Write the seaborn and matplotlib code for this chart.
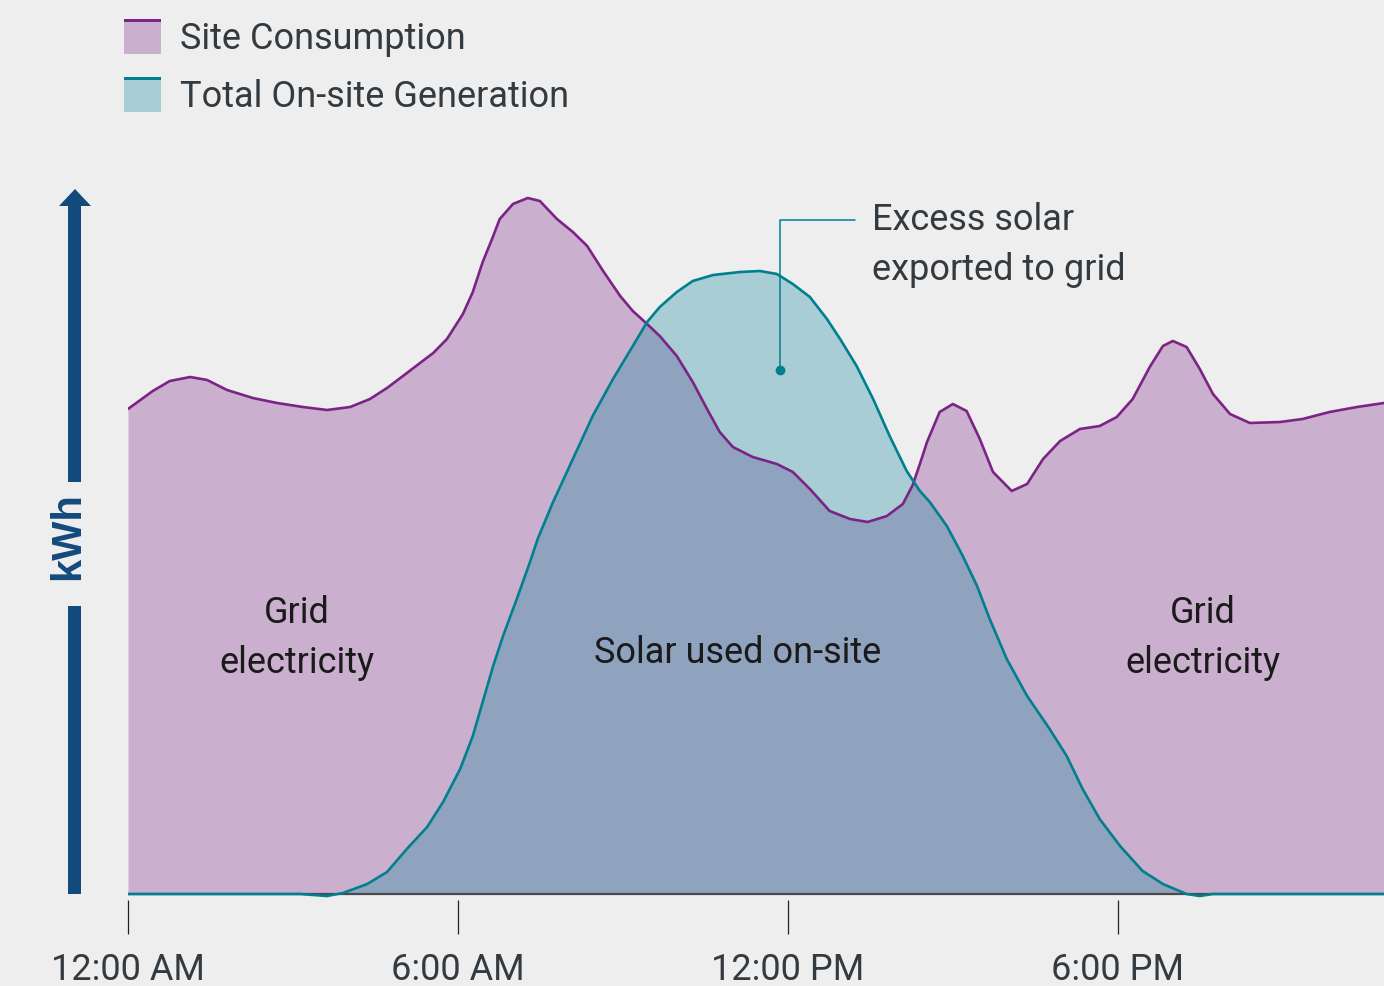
import numpy as np
import pandas as pd
import matplotlib

matplotlib.use("Agg")
import matplotlib.pyplot as plt
import seaborn as sns
from matplotlib import font_manager
from matplotlib.patches import Rectangle, Polygon

sns.set_theme(style="white")
installed = {f.name for f in font_manager.fontManager.ttflist}
if 'Liberation Sans Narrow' in installed:
    FONT, FS = 'Liberation Sans Narrow', 29
else:
    FONT, FS = 'Roboto', 26
plt.rcParams['font.family'] = [FONT, 'DejaVu Sans']

# site consumption: hours after midnight, relative kWh
cons_hours = [0.00, 0.45, 0.76, 1.13, 1.44, 1.80, 2.27, 2.71, 3.18, 3.62, 4.04, 4.40,
              4.71, 5.00, 5.31, 5.55, 5.80, 6.09, 6.27, 6.45, 6.62, 6.76, 7.00, 7.27,
              7.49, 7.80, 8.09, 8.35, 8.64, 8.95, 9.18, 9.40, 9.67, 9.98, 10.27, 10.53,
              10.76, 11.00, 11.36, 11.80, 12.09, 12.40, 12.76, 13.13, 13.45, 13.80, 14.09,
              14.27, 14.40, 14.53, 14.76, 15.00, 15.25, 15.49, 15.73, 16.07, 16.35, 16.64,
              16.95, 17.31, 17.67, 17.98, 18.27, 18.58, 18.82, 19.00, 19.25, 19.49, 19.73,
              20.04, 20.40, 20.95, 21.36, 21.85, 22.35, 22.84]
consumption = [485, 503, 513, 517, 514, 504, 496, 491, 487, 484, 487, 495,
               506, 518, 531, 541, 555, 580, 602, 632, 655, 675, 690, 696,
               693, 675, 662, 648, 623, 598, 583, 572, 558, 538, 512, 485,
               462, 447, 437, 430, 422, 405, 383, 375, 372, 378, 390,
               409, 430, 452, 482, 490, 483, 455, 422, 403, 410, 435,
               453, 465, 468, 477, 495, 527, 548, 553, 547, 525, 500,
               480, 471, 472, 475, 482, 487, 491]

# total on-site generation: hours after midnight, relative kWh
gen_hours = [0.00, 3.13, 3.62, 3.91, 4.35, 4.71, 5.07, 5.44, 5.73, 6.04, 6.27, 6.45,
             6.64, 6.82, 7.07, 7.31, 7.45, 7.73, 8.09, 8.45, 8.82, 9.18, 9.44, 9.67,
             9.98, 10.27, 10.64, 11.13, 11.49, 11.80, 12.09, 12.40, 12.71, 12.95, 13.25,
             13.55, 13.85, 14.16, 14.40, 14.58, 14.89, 15.18, 15.44, 15.67, 15.98, 16.35,
             16.76, 17.07, 17.36, 17.67, 18.04, 18.45, 18.82, 19.25, 19.49, 19.73, 22.84]
generation = [0, 0, -2, 1, 10, 22, 45, 67, 92, 125, 158, 192,
              228, 258, 295, 332, 355, 392, 435, 478, 515, 548, 572, 587,
              602, 613, 619, 622, 623, 620, 610, 597, 575, 555, 528,
              495, 458, 423, 403, 392, 368, 338, 308, 275, 235, 198,
              165, 138, 105, 75, 48, 23, 10, 0, -2, 0, 0]

tick_hours = [0, 6, 12, 18]
tick_labels = ['12:00 AM', '6:00 AM', '12:00 PM', '6:00 PM']

cons_df = pd.DataFrame({'hour': cons_hours, 'kwh': consumption})
gen_df = pd.DataFrame({'hour': gen_hours, 'kwh': generation})

BG = '#eeeeee'
CONS_FILL = '#cbafcf'
CONS_LINE = '#7b2485'
GEN_FILL = '#a8cdd4'
GEN_LINE = '#00808f'
OVERLAP = '#8fa3bf'
TEXT = '#333a40'
LABEL = '#1a1a1a'
NAVY = '#134a7c'

W, H = 1384, 987
fig = plt.figure(figsize=(W / 100, H / 100), dpi=100, facecolor=BG)
# axes: y=0 sits at pixel row 895, a few units of room below for the dip of the curve
ax = fig.add_axes([128 / W, 1 - 901 / H, 1 - 128 / W, (901 - 150) / H])
ax.set_facecolor(BG)

cons_poly = ax.fill_between(cons_df['hour'], 0, cons_df['kwh'], color=CONS_FILL, linewidth=0)
ax.fill_between(gen_df['hour'], 0, gen_df['kwh'], color=GEN_FILL, linewidth=0)
overlap = ax.fill_between(gen_df['hour'], 0, gen_df['kwh'], color=OVERLAP, linewidth=0)
overlap.set_clip_path(cons_poly.get_paths()[0], ax.transData)

ax.axhline(0, color='#4a4a4a', linewidth=1.6, zorder=1.5)

sns.lineplot(data=cons_df, x='hour', y='kwh', color=CONS_LINE, linewidth=1.9, ax=ax,
             solid_joinstyle='round', zorder=3)
sns.lineplot(data=gen_df, x='hour', y='kwh', color=GEN_LINE, linewidth=1.9, ax=ax,
             solid_joinstyle='round', zorder=3)

ax.set_xlim(0, cons_hours[-1])
ax.set_ylim(-6, 745)
ax.set_xlabel('')
ax.set_ylabel('')
ax.set_yticks([])
for s in ['left', 'right', 'top', 'bottom']:
    ax.spines[s].set_visible(False)
ax.set_xticks(tick_hours)
ax.set_xticklabels(tick_labels, fontsize=FS, color=TEXT)
ax.tick_params(axis='x', direction='out', length=24.5, width=0.9, color='#222222',
               pad=12, bottom=True)

# area labels
ax.text(3.07, 257, 'Grid\nelectricity', ha='center', va='center', fontsize=FS,
        color=LABEL, linespacing=1.5)
ax.text(11.09, 242, 'Solar used on-site', ha='center', va='center', fontsize=FS, color=LABEL)
ax.text(19.55, 257, 'Grid\nelectricity', ha='center', va='center', fontsize=FS,
        color=LABEL, linespacing=1.5)

# excess solar callout
ax.plot([11.85, 11.85, 13.22], [524, 674, 674], color=GEN_LINE, linewidth=1.1, zorder=4)
ax.plot([11.85], [524], 'o', color=GEN_LINE, markersize=6, zorder=4)
ax.text(13.53, 650, 'Excess solar\nexported to grid', ha='left', va='center', fontsize=FS,
        color=TEXT, linespacing=1.5)


def px(xp, yp):
    return xp / W, 1 - yp / H


# legend
legend_items = [('Site Consumption', CONS_FILL, CONS_LINE, 20),
                ('Total On-site Generation', GEN_FILL, GEN_LINE, 78)]
for label, fill, edge, top in legend_items:
    x0, y0 = px(124, top + 35)
    fig.add_artist(Rectangle((x0, y0), 37 / W, 35 / H, transform=fig.transFigure,
                             facecolor=fill, edgecolor='none'))
    fig.add_artist(Rectangle((x0, 1 - (top + 3) / H), 37 / W, 3 / H, transform=fig.transFigure,
                             facecolor=edge, edgecolor='none'))
    tx, ty = px(180, top + 19)
    fig.text(tx, ty, label, ha='left', va='center', fontsize=FS, color=TEXT)

# kWh axis arrow
for y_top, y_bot in [(205, 483), (607, 895)]:
    x0, y0 = px(68, y_bot)
    fig.add_artist(Rectangle((x0, y0), 13 / W, (y_bot - y_top) / H, transform=fig.transFigure,
                             facecolor=NAVY, edgecolor='none'))
fig.add_artist(Polygon([px(59, 207), px(91, 207), px(75, 190)], closed=True,
                       transform=fig.transFigure, facecolor=NAVY, edgecolor='none'))
kx, ky = px(68, 536)
fig.text(kx, ky, 'kWh', rotation=90, ha='center', va='center', fontsize=30,
         fontweight='bold', color=NAVY, family=['Liberation Sans', 'DejaVu Sans'])

fig.savefig('out.png', dpi=100, facecolor=BG)
